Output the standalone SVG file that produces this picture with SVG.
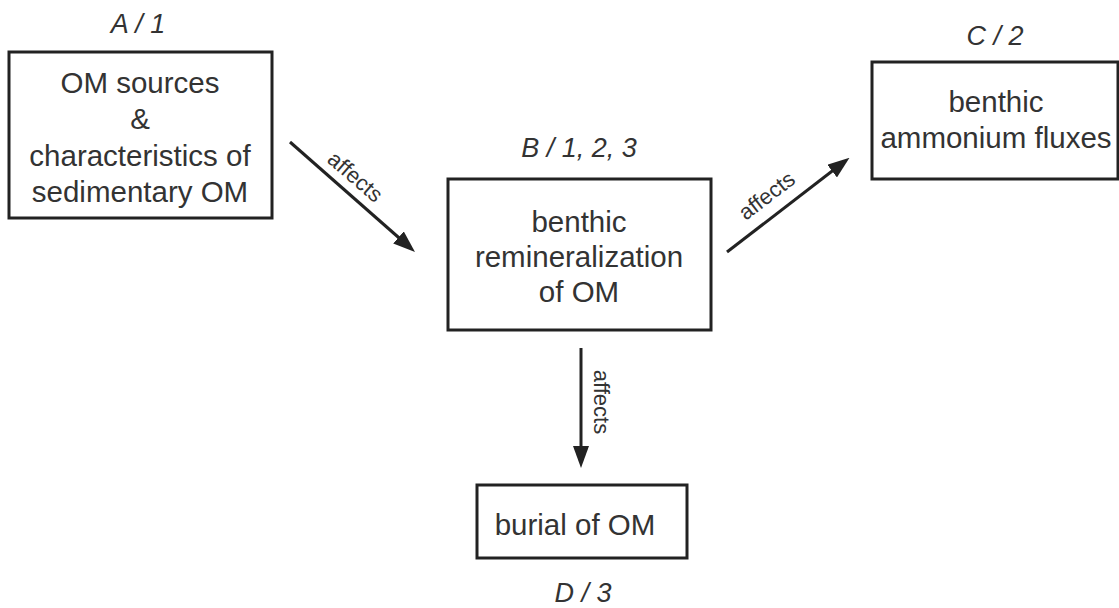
<svg xmlns="http://www.w3.org/2000/svg" width="1119" height="608" viewBox="0 0 1119 608">
<defs>
<style>
.box{fill:#fff;stroke:#222;stroke-width:3}
.t{font-family:"Liberation Sans",Arial,sans-serif;font-size:29.5px;fill:#333;text-anchor:middle}
.lbl{font-family:"Liberation Sans",Arial,sans-serif;font-size:27px;font-style:italic;fill:#333;text-anchor:middle}
.af{font-family:"Liberation Sans",Arial,sans-serif;font-size:22px;fill:#333;text-anchor:middle}
.conn{stroke:#222;stroke-width:3;fill:none;marker-end:url(#ah)}
</style>
<marker id="ah" viewBox="0 0 22 16" refX="10" refY="8" markerWidth="22" markerHeight="16" markerUnits="userSpaceOnUse" orient="auto">
<path d="M0,0 L22,8 L0,16 z" fill="#222"/>
</marker>
</defs>
<rect width="1119" height="608" fill="#fff"/>
<g id="connectors">
<line class="conn" x1="290" y1="142" x2="406" y2="244"/>
<line class="conn" x1="727" y1="252" x2="840" y2="165"/>
<line class="conn" x1="581" y1="348" x2="581" y2="456"/>
<text class="af" transform="translate(355,177) rotate(41)" y="7">affects</text>
<text class="af" transform="translate(767,196) rotate(-37.4)" y="7">affects</text>
<text class="af" transform="translate(601,402) rotate(90)" y="7">affects</text>
</g>
<g id="nodeA">
<text class="lbl" x="138" y="33">A / 1</text>
<rect class="box" x="9" y="52" width="263" height="166"/>
<text class="t" x="140" y="93">OM sources</text>
<text class="t" x="140" y="129">&amp;</text>
<text class="t" x="140" y="166">characteristics of</text>
<text class="t" x="140" y="202">sedimentary OM</text>
</g>
<g id="nodeB">
<text class="lbl" x="579" y="157">B / 1, 2, 3</text>
<rect class="box" x="448" y="179" width="263" height="151"/>
<text class="t" x="579" y="232">benthic</text>
<text class="t" x="579" y="267">remineralization</text>
<text class="t" x="579" y="302">of OM</text>
</g>
<g id="nodeC">
<text class="lbl" x="995" y="45">C / 2</text>
<rect class="box" x="872" y="62" width="246" height="117"/>
<text class="t" x="996" y="112">benthic</text>
<text class="t" x="996" y="148">ammonium fluxes</text>
</g>
<g id="nodeD">
<rect class="box" x="477" y="485" width="210" height="73"/>
<text class="t" x="575" y="535">burial of OM</text>
<text class="lbl" x="583" y="602">D / 3</text>
</g>
</svg>
